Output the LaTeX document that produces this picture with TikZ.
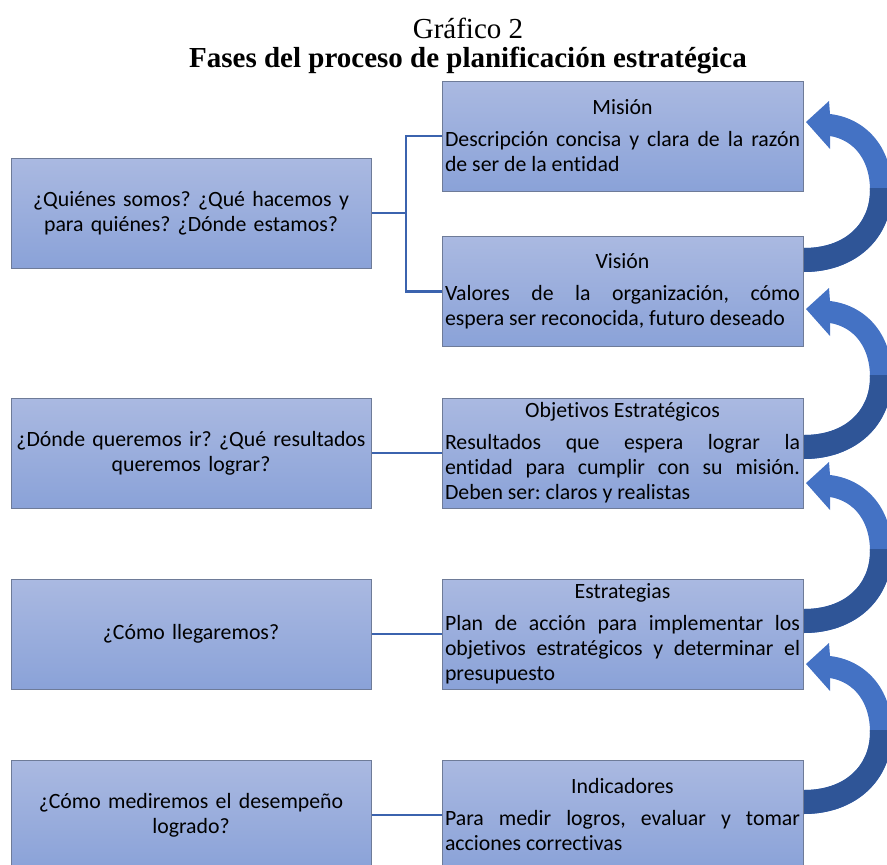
\documentclass[tikz,border=0pt]{standalone}
\usepackage{fontspec}
\setmainfont[Ligatures=NoCommon]{Carlito}
\newfontfamily\titlefont{Liberation Serif}

\definecolor{boxtop}{HTML}{AAB9E1}
\definecolor{boxbot}{HTML}{8AA2D8}
\definecolor{boxline}{HTML}{6E7B98}
\definecolor{linkblue}{HTML}{3B63AE}
\definecolor{arrowblue}{HTML}{4472C4}
\definecolor{arrowdark}{HTML}{2F5597}

\tikzset{
  box/.style={draw=boxline, line width=1pt, top color=boxtop, bottom color=boxbot,
    minimum height=110pt, inner sep=3pt, font=\fontsize{21.8}{25}\selectfont},
  askbox/.style={box, text width=354pt, align=center},
  phasebox/.style={box, text width=355pt, align=justify},
  link/.style={draw=linkblue, line width=2.5pt},
}

% flecha curva (cola en el origen)
\def\arrowpath{(0,12) .. controls (50,12) and (88,-20) .. (88,-70)
  .. controls (88,-115) and (60,-142) .. (26,-146)
  -- (25,-159) -- (2,-138) -- (26,-111) -- (26,-124)
  .. controls (50,-120) and (66,-100) .. (66,-70)
  .. controls (66,-35) and (40,-12) .. (0,-12) -- cycle}
\newcommand\backarrow[1]{%
  \begin{scope}[shift={#1}]
    \fill[arrowblue] \arrowpath;
    \begin{scope}
      \clip (0,-72) rectangle (120,30);
      \fill[arrowdark] \arrowpath;
    \end{scope}
  \end{scope}}

\begin{document}
\frenchspacing
\begin{tikzpicture}[x=1pt,y=-1pt]
  \useasboundingbox (0,0) rectangle (887,865);
  % Parametros
  \def\xl{191}     % centro columna izquierda
  \def\xr{622.5}   % centro columna derecha

  % Titulo
  \node[font=\titlefont\fontsize{29}{32}\selectfont] (num) at (468,28) {Gráfico 2};
  \node[font=\titlefont\bfseries\fontsize{29}{32}\selectfont] (title) at (468,60)
    {Fases del proceso de planificación estratégica};

  % Preguntas
  \node[askbox] (quienes) at (\xl,213) {¿Quiénes somos? ¿Qué hacemos y\\para quiénes? ¿Dónde estamos?};
  \node[askbox] (donde) at (\xl,453) {¿Dónde queremos ir? ¿Qué resultados\\queremos lograr?};
  \node[askbox] (como) at (\xl,634) {¿Cómo llegaremos?};
  \node[askbox] (medir) at (\xl,815) {¿Cómo mediremos el desempeño\\logrado?};

  % Fases
  \node[phasebox] (mision) at (\xr,136) {{\centering Misión\par}\vspace{7pt}%
    Descripción concisa y clara de la razón\linebreak de ser de la entidad};
  \node[phasebox] (vision) at (\xr,291.5) {{\centering Visión\par}\vspace{7pt}%
    Valores de la organización, cómo\linebreak espera ser reconocida, futuro deseado};
  \node[phasebox] (objetivos) at (\xr,453) {{\centering Objetivos Estratégicos\par}\vspace{7pt}%
    Resultados que espera lograr la\linebreak entidad para cumplir con su misión.\linebreak
    Deben ser: claros y realistas};
  \node[phasebox] (estrategias) at (\xr,634) {{\centering Estrategias\par}\vspace{7pt}%
    Plan de acción para implementar los\linebreak objetivos estratégicos y determinar el\linebreak
    presupuesto};
  \node[phasebox] (indicadores) at (\xr,815) {{\centering Indicadores\par}\vspace{7pt}%
    Para medir logros, evaluar y tomar\linebreak acciones correctivas};

  % Conectores
  \coordinate (split) at (406,213);
  \draw[link] (quienes.east) -- (split) |- (mision.west);
  \draw[link] (split) |- (vision.west);
  \draw[link] (donde) -- (objetivos);
  \draw[link] (como) -- (estrategias);
  \draw[link] (medir) -- (indicadores);

  % Flechas de retorno
  \backarrow{(804,260)}
  \backarrow{(804,447)}
  \backarrow{(804,621)}
  \backarrow{(804,802)}
\end{tikzpicture}
\end{document}
